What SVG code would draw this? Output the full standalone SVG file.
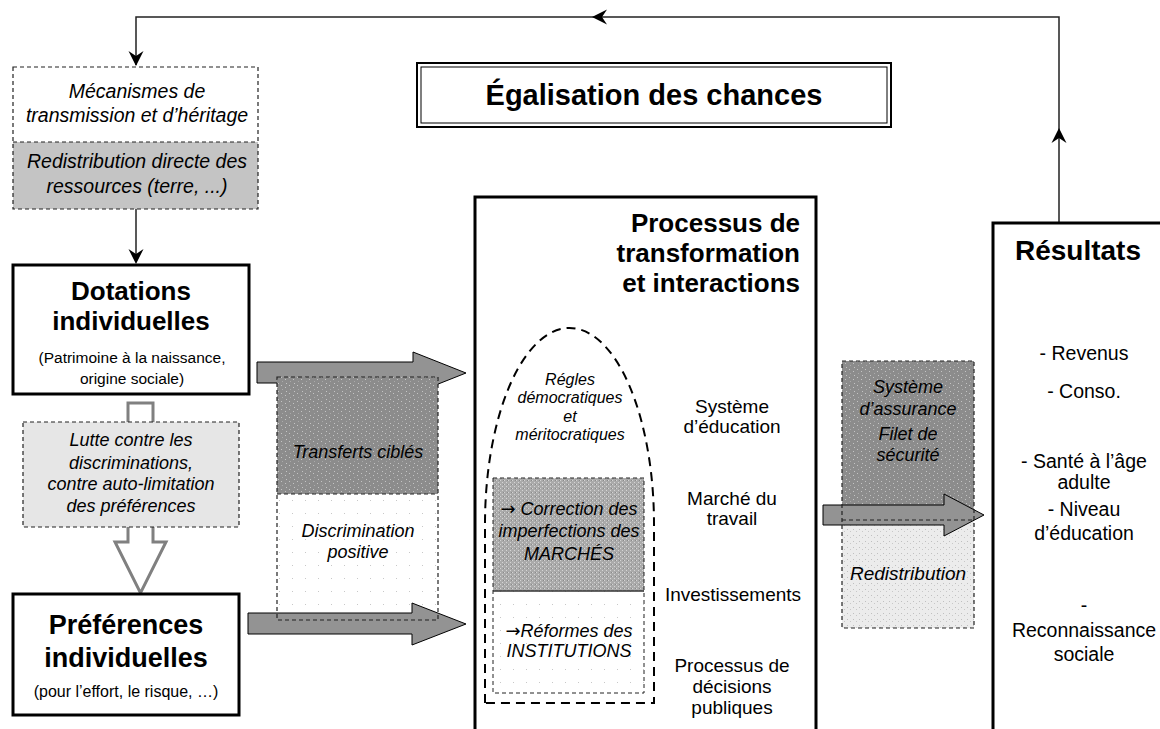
<svg xmlns="http://www.w3.org/2000/svg" xmlns:xlink="http://www.w3.org/1999/xlink" width="1160" height="729" viewBox="0 0 1160 729">
<style>
text{font-family:"Liberation Sans",Arial,sans-serif;fill:#000;text-anchor:middle}
.h{font-weight:bold;font-size:26px}
.it{font-style:italic;font-size:18px}
.itL{font-style:italic;font-size:19.5px}
.itS{font-style:italic;font-size:16px}
.r{font-size:19px}
.rr{font-size:19.5px}
.sub{font-size:15.5px}
.arw{font-family:"DejaVu Sans",sans-serif;font-style:normal}
.dash{fill:none;stroke:#222;stroke-width:1.2;stroke-dasharray:4 3}
.thick{fill:#fff;stroke:#000;stroke-width:3}
.conn{fill:none;stroke:#222;stroke-width:1.5}
.garrow{fill:#939393;stroke:#000;stroke-width:1}
</style>
<defs>
<path id="head" d="M0,0 L-15,-7.5 L-10,0 L-15,7.5 Z" fill="#000"/>
<pattern id="pDark" width="8" height="8" patternUnits="userSpaceOnUse">
<rect width="8" height="8" fill="#8c8c8c"/>
<rect x="1" y="1" width="1" height="1" fill="#c4c4c4"/>
<rect x="5" y="3" width="1" height="1" fill="#c4c4c4"/>
<rect x="2" y="5" width="1" height="1" fill="#aaaaaa"/>
<rect x="6" y="7" width="1" height="1" fill="#c4c4c4"/>
</pattern>
<pattern id="pMid" width="4" height="4" patternUnits="userSpaceOnUse">
<rect width="4" height="4" fill="#aaaaaa"/>
<rect x="0" y="0" width="1" height="1" fill="#d4d4d4"/>
<rect x="2" y="2" width="1" height="1" fill="#d4d4d4"/>
<rect x="3" y="0" width="1" height="1" fill="#8a8a8a"/>
</pattern>
<pattern id="pLight" width="6" height="6" patternUnits="userSpaceOnUse">
<rect width="6" height="6" fill="#ececec"/>
<rect x="1" y="1" width="1" height="1" fill="#c0c0c0"/>
<rect x="4" y="3" width="1" height="1" fill="#c8c8c8"/>
</pattern>
<pattern id="pDots" width="13" height="13" patternUnits="userSpaceOnUse">
<rect width="13" height="13" fill="#fff"/>
<rect x="6" y="6" width="1" height="1" fill="#c8c8c8"/>
</pattern>
</defs>
<rect width="1160" height="729" fill="#fff"/>

<g id="title">
<rect x="417" y="63" width="474" height="64" fill="#fff" stroke="#000" stroke-width="2"/>
<rect x="421" y="67" width="466" height="56" fill="none" stroke="#000" stroke-width="1"/>
<text x="654" y="105" style="font-weight:bold;font-size:29px">Égalisation des chances</text>
</g>

<g id="connectors">
<polyline class="conn" points="1059,223 1059,17 136,17 136,65"/>
<use xlink:href="#head" transform="translate(136,66) rotate(90)"/>
<use xlink:href="#head" transform="translate(592,17) rotate(180)"/>
<use xlink:href="#head" transform="translate(1059,128) rotate(-90)"/>
<line class="conn" x1="136" y1="209" x2="136" y2="262"/>
<use xlink:href="#head" transform="translate(136,264) rotate(90)"/>
<polygon points="128,403 153,403 153,542 166,542 140.5,593 115,542 128,542" fill="#fff" stroke="#808080" stroke-width="3"/>
<polygon class="garrow" points="257,362 413,362 413,352 466,373 413,394 413,383 257,383"/>
</g>

<g id="mecanismes">
<rect x="13" y="67" width="245" height="142" fill="#fff"/>
<rect x="13" y="142" width="245" height="67" fill="#c4c4c4"/>
<rect class="dash" x="13" y="67" width="245" height="142"/>
<line class="dash" x1="13" y1="142" x2="258" y2="142"/>
<text class="itL" x="137" y="98">Mécanismes de</text>
<text class="itL" x="137" y="122">transmission et d’héritage</text>
<text class="itL" x="137" y="168">Redistribution directe des</text>
<text class="itL" x="137" y="193">ressources (terre, ...)</text>
</g>

<g id="dotations">
<rect class="thick" x="13" y="265" width="236" height="129"/>
<text class="h" x="131" y="300">Dotations</text>
<text class="h" x="131" y="330">individuelles</text>
<text class="sub" x="132" y="363">(Patrimoine à la naissance,</text>
<text class="sub" x="132" y="384">origine sociale)</text>
</g>

<g id="lutte">
<rect x="23" y="422" width="216" height="105" fill="#e6e6e6"/>
<rect class="dash" x="23" y="422" width="216" height="105"/>
<text class="it" x="131" y="446">Lutte contre les</text>
<text class="it" x="131" y="469">discriminations,</text>
<text class="it" x="131" y="490">contre auto-limitation</text>
<text class="it" x="131" y="512">des préférences</text>
</g>

<g id="preferences">
<rect class="thick" x="13" y="594" width="226" height="121"/>
<text class="h" x="126" y="634" style="font-size:27px">Préférences</text>
<text class="h" x="126" y="667" style="font-size:27px">individuelles</text>
<text x="126" y="697" style="font-size:16px">(pour l’effort, le risque, …)</text>
</g>

<g id="transferts">
<rect x="277" y="377" width="161" height="117" fill="url(#pDark)"/>
<rect x="277" y="494" width="161" height="126" fill="url(#pDots)"/>
<polygon class="garrow" points="248,613 412,613 412,603 466,624 412,645 412,634 248,634"/>
<rect class="dash" x="277" y="377" width="161" height="243"/>
<line class="dash" x1="277" y1="494" x2="438" y2="494"/>
<text class="it" x="358" y="458">Transferts ciblés</text>
<text class="it" x="358" y="537">Discrimination</text>
<text class="it" x="358" y="558">positive</text>
</g>

<g id="processus">
<path d="M475,735 L475,197 L816,197 L816,735" fill="#fff" stroke="#000" stroke-width="3"/>
<text class="h" x="800" y="232" style="text-anchor:end">Processus de</text>
<text class="h" x="800" y="262" style="text-anchor:end">transformation</text>
<text class="h" x="800" y="292" style="text-anchor:end">et interactions</text>
<text class="r" x="732" y="413">Système</text>
<text class="r" x="732" y="433">d’éducation</text>
<text class="r" x="732" y="505">Marché du</text>
<text class="r" x="732" y="525">travail</text>
<text class="r" x="733" y="601">Investissements</text>
<text class="r" x="732" y="672">Processus de</text>
<text class="r" x="732" y="693">décisions</text>
<text class="r" x="732" y="714">publiques</text>
</g>

<g id="regles">
<path d="M485,703 L485,524 A84.5,196 0 0 1 654,524 L654,703 Z" fill="none" stroke="#000" stroke-width="2" stroke-dasharray="9 6"/>
<text class="itS" x="570" y="385">Régles</text>
<text class="itS" x="570" y="403">démocratiques</text>
<text class="itS" x="570" y="422">et</text>
<text class="itS" x="570" y="440">méritocratiques</text>
</g>

<g id="correction">
<rect x="493" y="478" width="151" height="113" fill="url(#pMid)"/>
<rect x="493" y="591" width="151" height="102" fill="url(#pDots)"/>
<rect class="dash" x="493" y="478" width="151" height="215" style="stroke-width:1"/>
<line x1="493" y1="591" x2="644" y2="591" stroke="#333" stroke-width="1.5"/>
<text class="it" x="569" y="515"><tspan class="arw">→</tspan> Correction des</text>
<text class="it" x="569" y="537">imperfections des</text>
<text class="it" x="569" y="560">MARCHÉS</text>
<text class="it" x="569" y="637"><tspan class="arw">→</tspan>Réformes des</text>
<text class="it" x="569" y="657">INSTITUTIONS</text>
</g>

<g id="assurance">
<rect x="842" y="361" width="132" height="159" fill="url(#pDark)"/>
<rect x="842" y="520" width="132" height="108" fill="url(#pLight)"/>
<polygon class="garrow" points="823,505 944,505 944,494 984,515 944,536 944,525 823,525"/>
<rect class="dash" x="842" y="361" width="132" height="267"/>
<line class="dash" x1="842" y1="520" x2="974" y2="520"/>
<text class="it" x="908" y="393">Système</text>
<text class="it" x="908" y="415">d’assurance</text>
<text class="it" x="908" y="440">Filet de</text>
<text class="it" x="908" y="461">sécurité</text>
<text class="it" x="908" y="580" style="font-size:19px">Redistribution</text>
</g>

<g id="resultats">
<path d="M993,735 L993,223 L1165,223" fill="#fff" stroke="#000" stroke-width="3"/>
<text class="h" x="1078" y="260" style="font-size:28px">Résultats</text>
<text class="rr" x="1084" y="360">- Revenus</text>
<text class="rr" x="1084" y="398">- Conso.</text>
<text class="rr" x="1084" y="468">- Santé à l’âge</text>
<text class="rr" x="1084" y="489">adulte</text>
<text class="rr" x="1084" y="516">- Niveau</text>
<text class="rr" x="1084" y="540">d’éducation</text>
<text class="rr" x="1084" y="612">-</text>
<text class="rr" x="1084" y="637">Reconnaissance</text>
<text class="rr" x="1084" y="661">sociale</text>
</g>
</svg>
